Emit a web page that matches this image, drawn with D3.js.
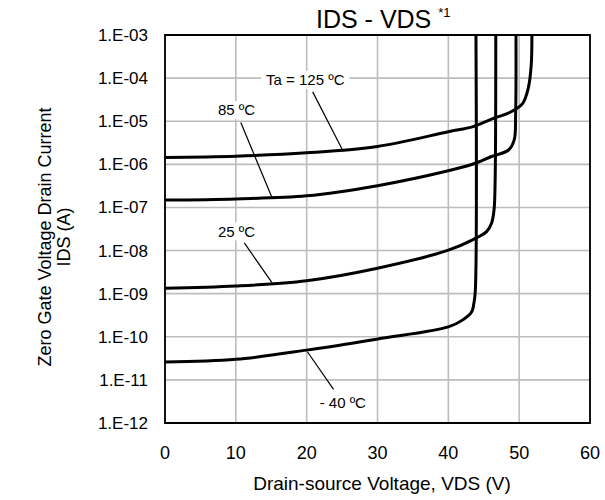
<!DOCTYPE html>
<html>
<head>
<meta charset="utf-8">
<script src="https://cdn.jsdelivr.net/npm/d3@7"></script>
<style>
  body { margin: 0; background: #fff; }
  text { font-family: "Liberation Sans", Arial, sans-serif; fill: #000; }
</style>
</head>
<body>
<div id="chart"></div>
<script>
// x ticks and y decade ticks
var xTicks = [0, 10, 20, 30, 40, 50, 60];
var yTicks = [1e-12, 1e-11, 1e-10, 1e-9, 1e-8, 1e-7, 1e-6, 1e-5, 1e-4, 1e-3];
var yTickLabels = ["1.E-12", "1.E-11", "1.E-10", "1.E-09", "1.E-08", "1.E-07", "1.E-06", "1.E-05", "1.E-04", "1.E-03"];

// curves (VDS in V, IDS in A)
var vds125 = [0, 10, 20, 30, 40, 43.5, 46, 49, 50.5, 51.3, 51.7, 51.8];
var ids125 = [1.45e-6, 1.55e-6, 1.85e-6, 2.6e-6, 5.7e-6, 7.5e-6, 1.1e-5, 1.7e-5, 2.6e-5, 6e-5, 2e-4, 1e-3];

var vds85 = [0, 10, 20, 30, 40, 43.5, 46, 48.5, 49.3, 49.5, 49.55];
var ids85 = [1.48e-7, 1.58e-7, 1.86e-7, 3.2e-7, 7.1e-7, 1.02e-6, 1.5e-6, 2.15e-6, 3.7e-6, 1.5e-5, 1e-3];

var vds25 = [0, 10, 20, 30, 40, 43.5, 45.4, 46.1, 46.45, 46.6, 46.7];
var ids25 = [1.33e-9, 1.5e-9, 2e-9, 3.9e-9, 1.02e-8, 1.8e-8, 2.75e-8, 4.3e-8, 8.7e-8, 3.6e-7, 1e-3];

var vdsM40 = [0, 10, 20, 30, 40, 42.1, 43.3, 43.6, 43.8, 43.9];
var idsM40 = [2.6e-11, 3e-11, 4.9e-11, 8.9e-11, 1.7e-10, 2.5e-10, 3.8e-10, 5.9e-10, 1.1e-9, 1e-3];

// annotation labels: text, label centre (V, A), leader start, leader end
var labelText = ["Ta = 125 \u00baC", "85 \u00baC", "25 \u00baC", "- 40 \u00baC"];
var labelAt = [[19.8, 9.1e-5], [10.1, 1.8e-5], [10.1, 2.8e-8], [25.1, 2.9e-12]];
var leadFrom = [[20.85, 4.8e-5], [10.7, 9.3e-6], [11.2, 1.5e-8], [20.1, 4.5e-11]];
var leadTo = [[25.1, 2.1e-6], [15.1, 1.7e-7], [15.1, 1.8e-9], [23.8, 6e-12]];

var plotL = 165, plotR = 590, plotT = 35, plotB = 423;

var svg = d3.select("#chart").append("svg")
  .attr("width", 605)
  .attr("height", 500);

var x = d3.scaleLinear().domain([0, 60]).range([plotL, plotR]);
var y = d3.scaleLog().domain([1e-12, 1e-3]).range([plotB, plotT]);

// grid as one path built from the scales
var gridPath = d3.path();
xTicks.forEach(function(d){
  gridPath.moveTo(x(d), plotT);
  gridPath.lineTo(x(d), plotB);
});
yTicks.forEach(function(d){
  gridPath.moveTo(plotL, y(d));
  gridPath.lineTo(plotR, y(d));
});
svg.append("path")
  .attr("d", gridPath.toString())
  .attr("fill", "none")
  .attr("stroke", "#bdbdbd")
  .attr("stroke-width", 1.6);

// curves
var curve = d3.line()
  .x(function(d){ return x(d[0]); })
  .y(function(d){ return y(d[1]); })
  .curve(d3.curveCatmullRom.alpha(0.5));

var series = [[vds125, ids125], [vds85, ids85], [vds25, ids25], [vdsM40, idsM40]];
series.forEach(function(s){
  var pts = s[0].map(function(v, i){ return [v, s[1][i]]; });
  svg.append("path")
    .attr("d", curve(pts))
    .attr("fill", "none")
    .attr("stroke", "#000")
    .attr("stroke-width", 3);
});

// leaders and labels
labelText.forEach(function(t, i){
  svg.append("path")
    .attr("d", "M" + x(leadFrom[i][0]) + "," + y(leadFrom[i][1]) +
               "L" + x(leadTo[i][0]) + "," + y(leadTo[i][1]))
    .attr("fill", "none")
    .attr("stroke", "#000").attr("stroke-width", 1.2);

  var cx = x(labelAt[i][0]), cy = y(labelAt[i][1]);
  var bg = svg.append("rect").attr("fill", "#fff");
  var txt = svg.append("text")
    .attr("x", cx)
    .attr("y", cy)
    .attr("text-anchor", "middle")
    .attr("dy", "0.35em")
    .attr("font-size", 15)
    .text(t);
  var w = txt.node().getComputedTextLength();
  bg.attr("x", cx - w / 2 - 5).attr("y", cy - 9)
    .attr("width", w + 10).attr("height", 18);
});

// plot border as a path
var framePath = d3.path();
framePath.rect(plotL, plotT, plotR - plotL, plotB - plotT);
svg.append("path")
  .attr("d", framePath.toString())
  .attr("fill", "none")
  .attr("stroke", "#000")
  .attr("stroke-width", 1.8);

// tick labels
svg.append("g").selectAll("text")
  .data(xTicks)
  .join("text")
  .attr("x", function(d){ return x(d); })
  .attr("y", plotB + 36)
  .attr("text-anchor", "middle")
  .attr("font-size", 18)
  .text(function(d){ return d; });

svg.append("g").selectAll("text")
  .data(yTicks)
  .join("text")
  .attr("x", plotL - 17)
  .attr("y", function(d){ return y(d); })
  .attr("dy", "0.35em")
  .attr("text-anchor", "end")
  .attr("font-size", 17)
  .text(function(d, i){ return yTickLabels[i]; });

// title
var title = svg.append("text")
  .attr("x", 316).attr("y", 28)
  .attr("font-size", 25);
title.append("tspan").text("IDS - VDS ");
title.append("tspan").attr("font-size", 13).attr("dy", -11).text("*1");

// axis titles
svg.append("text")
  .attr("x", 382).attr("y", 490)
  .attr("text-anchor", "middle")
  .attr("font-size", 19)
  .text("Drain-source Voltage, VDS (V)");

var ytitle = svg.append("text")
  .attr("transform", "translate(51,237) rotate(-90)")
  .attr("text-anchor", "middle")
  .attr("font-size", 18);
ytitle.append("tspan").attr("x", 0).attr("dy", 0).text("Zero Gate Voltage Drain Current");
ytitle.append("tspan").attr("x", 0).attr("dy", 19).text("IDS (A)");
</script>
</body>
</html>
